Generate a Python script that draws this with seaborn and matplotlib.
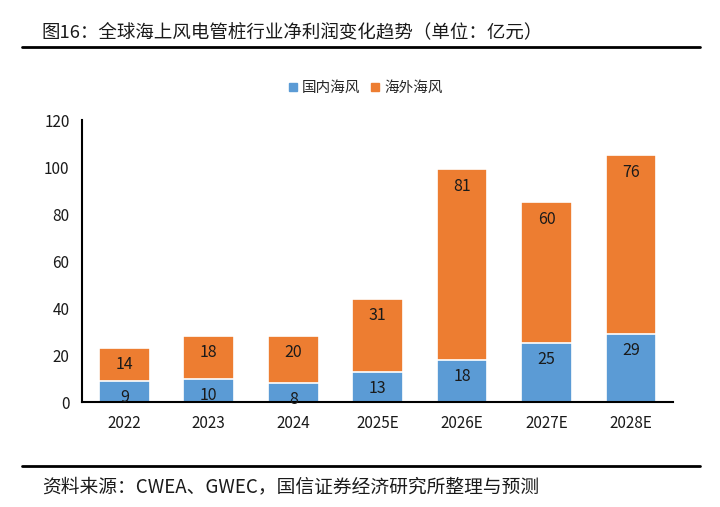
import numpy as np
import pandas as pd
import seaborn as sns
import matplotlib.pyplot as plt
from matplotlib.lines import Line2D

years = ["2022", "2023", "2024", "2025E", "2026E", "2027E", "2028E"]
domestic = [9, 10, 8, 13, 18, 25, 29]
overseas = [14, 18, 20, 31, 81, 60, 76]

blue = "#5B9BD5"
orange = "#ED7D31"

sns.set_theme(style="white")
plt.rcParams["font.family"] = ["Noto Sans CJK SC", "DejaVu Sans"]

df = pd.DataFrame({"year": years, "domestic": domestic, "overseas": overseas})
df["total"] = df["domestic"] + df["overseas"]

fig = plt.figure(figsize=(7.2, 5.07), dpi=100)
ax = fig.add_axes([0.114, 0.207, 0.821, 0.556])

sns.barplot(data=df, x="year", y="total", color=orange, width=0.6,
            edgecolor="white", linewidth=1.2, saturation=1, ax=ax)
sns.barplot(data=df, x="year", y="domestic", color=blue, width=0.6,
            edgecolor="white", linewidth=1.2, saturation=1, ax=ax)

# labels sit just inside the top of each segment
for i, (d, o) in enumerate(zip(domestic, overseas)):
    ax.annotate(str(d), xy=(i, d), xytext=(0, -12), textcoords="offset points",
                ha="center", va="center", fontsize=11.5, color="#1a1a1a")
    ax.annotate(str(o), xy=(i, d + o), xytext=(0, -12), textcoords="offset points",
                ha="center", va="center", fontsize=11.5, color="#1a1a1a")

ax.set_ylim(0, 120)
ax.set_yticks(range(0, 121, 20))
ax.set_xlim(-0.5, 6.5)
ax.set_xlabel("")
ax.set_ylabel("")
ax.tick_params(axis="both", length=0, labelsize=11, colors="#1a1a1a")
ax.tick_params(axis="x", pad=9)
ax.tick_params(axis="y", pad=9)
for s in ["top", "right"]:
    ax.spines[s].set_visible(False)
for s in ["left", "bottom"]:
    ax.spines[s].set_color("black")
    ax.spines[s].set_linewidth(1.5)

handles = [Line2D([], [], marker="s", linestyle="", color=blue, markersize=6),
           Line2D([], [], marker="s", linestyle="", color=orange, markersize=6)]
fig.legend(handles, ["国内海风", "海外海风"], loc="center", bbox_to_anchor=(0.507, 0.826),
           ncol=2, frameon=False, fontsize=10.5, handletextpad=0.2, columnspacing=0.6,
           handlelength=0.8)

fig.text(0.058, 0.937, "图16：全球海上风电管桩行业净利润变化趋势（单位：亿元）",
         fontsize=13.3, ha="left", va="center", color="#1a1a1a")
fig.add_artist(Line2D([0.03, 0.972], [0.907, 0.907], color="black", linewidth=2))
fig.add_artist(Line2D([0.03, 0.972], [0.081, 0.081], color="black", linewidth=2))
fig.text(0.058, 0.04, "资料来源：CWEA、GWEC，国信证券经济研究所整理与预测",
         fontsize=13.5, ha="left", va="center", color="#1a1a1a")

fig.savefig("out.png", dpi=100, facecolor="white")
